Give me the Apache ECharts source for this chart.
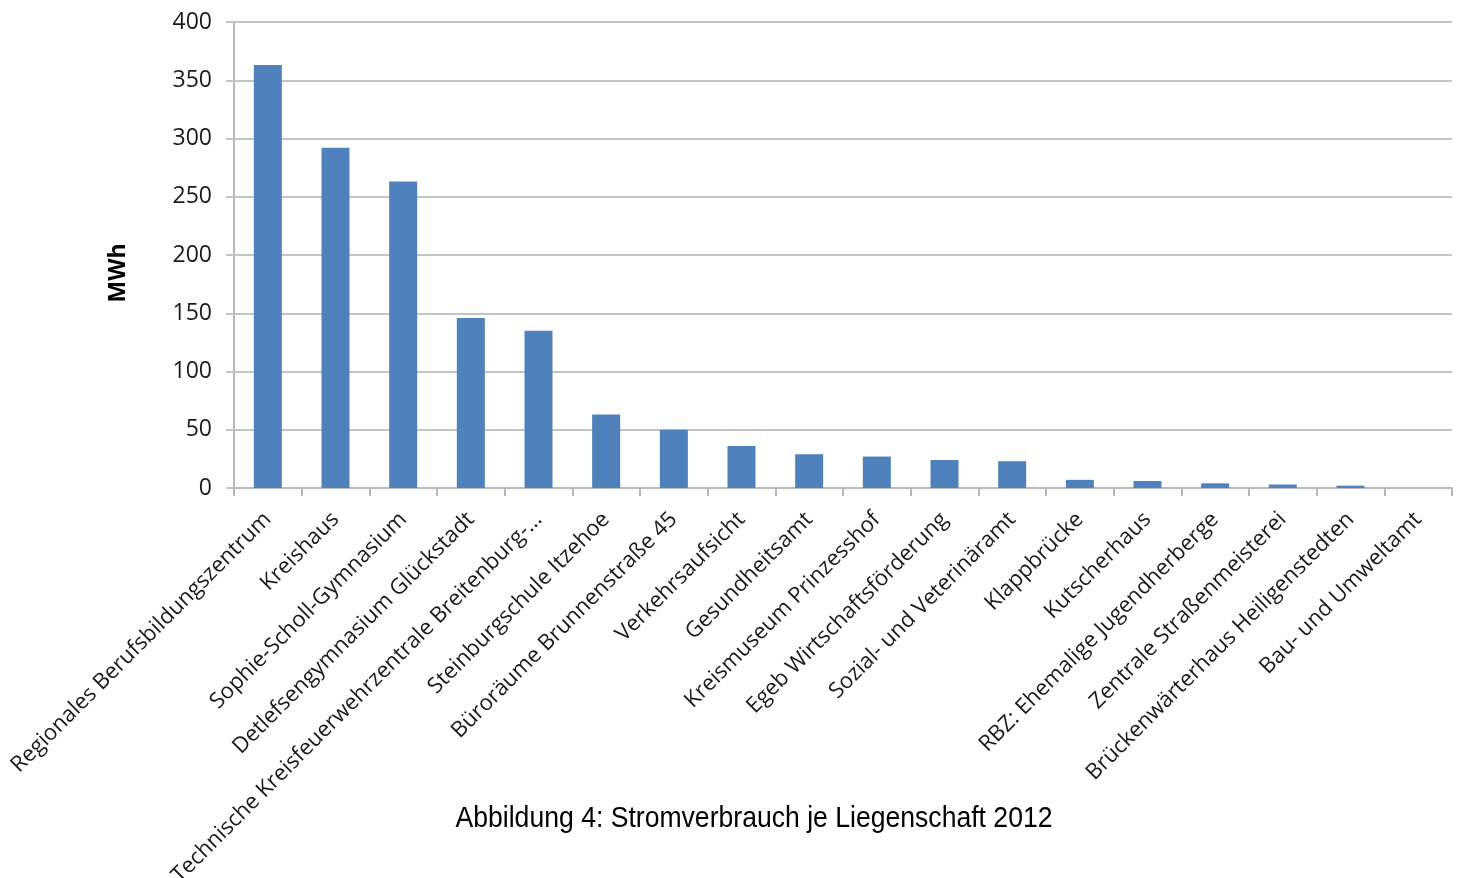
<!DOCTYPE html>
<html>
<head>
<meta charset="utf-8">
<script src="https://cdn.jsdelivr.net/npm/echarts@6/dist/echarts.min.js"></script>
<style>
  html, body { margin: 0; padding: 0; background: #fff; }
  #chart { width: 1459px; height: 878px; }
</style>
</head>
<body>
<div id="chart"></div>
<script>
// Stromverbrauch je Liegenschaft 2012 (MWh)
const categories = [
  "Regionales Berufsbildungszentrum",
  "Kreishaus",
  "Sophie-Scholl-Gymnasium",
  "Detlefsengymnasium Glückstadt",
  "Technische Kreisfeuerwehrzentrale Breitenburg-...",
  "Steinburgschule Itzehoe",
  "Büroräume Brunnenstraße 45",
  "Verkehrsaufsicht",
  "Gesundheitsamt",
  "Kreismuseum Prinzesshof",
  "Egeb Wirtschaftsförderung",
  "Sozial- und Veterinäramt",
  "Klappbrücke",
  "Kutscherhaus",
  "RBZ: Ehemalige Jugendherberge",
  "Zentrale Straßenmeisterei",
  "Brückenwärterhaus Heiligenstedten",
  "Bau- und Umweltamt"
];
const values = [363, 292, 263, 146, 135, 63, 50, 36, 29, 27, 24, 23, 7, 6, 4, 3, 2, 0];
const yTicks = { min: 0, max: 400, interval: 50 };

const labelFont = "'Open Sans', 'DejaVu Sans', sans-serif";
const gridColor = "#c4c4c4";

const chart = echarts.init(document.getElementById("chart"));

chart.setOption({
  animation: false,
  grid: {
    left: 234,
    right: 7,
    top: 22,
    bottom: 390,
    containLabel: false,
    outerBoundsMode: "none"
  },
  xAxis: {
    type: "category",
    data: categories,
    axisLine: { lineStyle: { color: "#b8b8b8", width: 2 } },
    axisTick: {
      show: true,
      alignWithLabel: false,
      length: 8,
      lineStyle: { color: "#b8b8b8", width: 2 }
    },
    axisLabel: {
      rotate: 45,
      interval: 0,
      margin: 28,
      fontFamily: labelFont,
      fontSize: 22,
      color: "#1a1a1a"
    }
  },
  yAxis: {
    type: "value",
    min: yTicks.min,
    max: yTicks.max,
    interval: yTicks.interval,
    axisLine: { show: true, lineStyle: { color: "#b8b8b8", width: 2 } },
    axisTick: { show: true, length: 8, lineStyle: { color: gridColor, width: 2 } },
    splitLine: { lineStyle: { color: gridColor, width: 2 } },
    axisLabel: {
      margin: 22,
      fontFamily: labelFont,
      fontSize: 23,
      color: "#1a1a1a"
    }
  },
  graphic: [
    {
      type: "text",
      x: 118,
      y: 273,
      rotation: Math.PI / 2,
      style: {
        text: "MWh",
        font: "bold 23px 'Open Sans', sans-serif",
        fill: "#000",
        align: "center",
        verticalAlign: "middle"
      }
    },
    {
      // caption below the chart, slightly narrowed like the source image
      type: "text",
      x: 754,
      y: 819,
      scaleX: 0.886,
      style: {
        text: "Abbildung 4: Stromverbrauch je Liegenschaft 2012",
        font: "30px 'Liberation Sans', Arial, sans-serif",
        fill: "#000",
        align: "center",
        verticalAlign: "middle"
      }
    }
  ],
  series: [
    {
      type: "bar",
      data: values,
      barWidth: 28,
      itemStyle: { color: "#4f81bd" }
    }
  ]
});
</script>
</body>
</html>
